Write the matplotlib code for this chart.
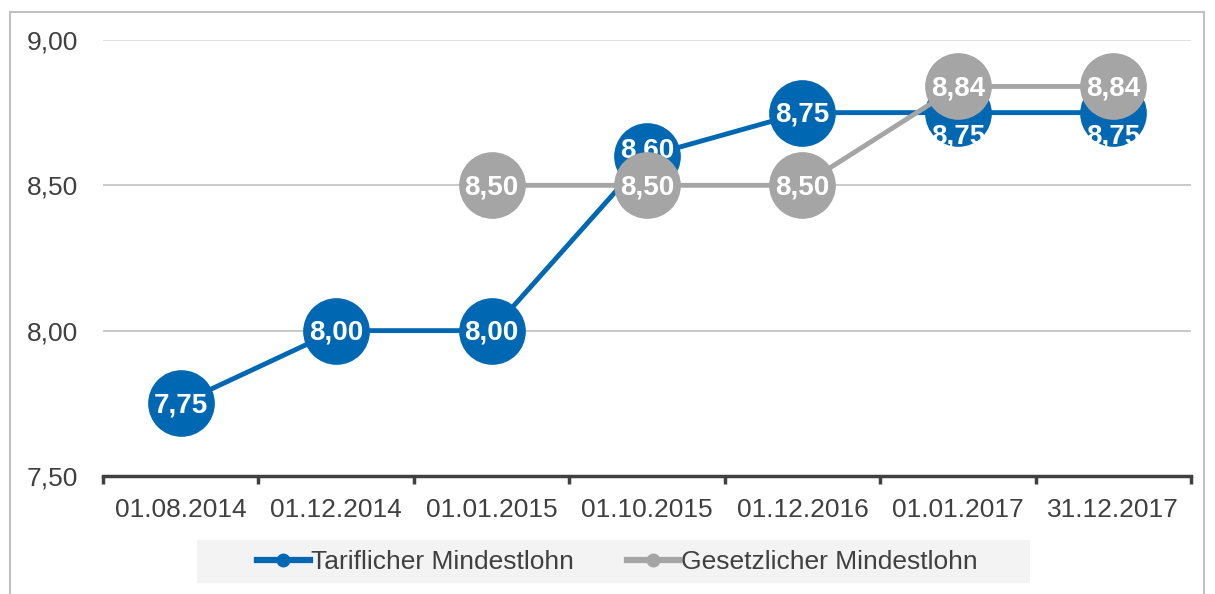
import matplotlib
matplotlib.use("Agg")
import matplotlib.pyplot as plt
from matplotlib.patches import Rectangle
from matplotlib.lines import Line2D

plt.rcParams['font.family'] = ['Liberation Sans', 'DejaVu Sans']

# data
dates = ["01.08.2014", "01.12.2014", "01.01.2015", "01.10.2015",
         "01.12.2016", "01.01.2017", "31.12.2017"]
tariflich = [7.75, 8.00, 8.00, 8.60, 8.75, 8.75, 8.75]
gesetzlich = [None, None, 8.50, 8.50, 8.50, 8.84, 8.84]
yticks = [7.50, 8.00, 8.50, 9.00]

blue = "#0068b3"
grey = "#a5a5a5"
txt = "#404040"

fig = plt.figure(figsize=(12.15, 5.94), dpi=100)
ax = fig.add_axes([0.0848, 0.1987, 0.8955, 0.734])

# outer frame
fig.patches.append(Rectangle((10/1215, -0.05), 1194/1215, 1.05 - 12/594,
                             transform=fig.transFigure, fill=False,
                             edgecolor="#c0c0c0", linewidth=1.5))
# legend background
fig.patches.append(Rectangle((197/1215, 1 - 583/594), 833/1215, 43/594,
                             transform=fig.transFigure, facecolor="#f3f3f3",
                             edgecolor="none"))

x = list(range(len(dates)))
ax.plot(x, tariflich, color=blue, lw=3.5, marker="o", ms=47,
        mec=blue, mfc=blue, zorder=3, clip_on=False,
        label="Tariflicher Mindestlohn")

# label offsets in pixels where the labels were nudged
boff = [0, 0, 0, 8, 0, -22, -22]
for i, v in enumerate(tariflich):
    ax.annotate(("%.2f" % v).replace(".", ","), (i, v), xytext=(0, boff[i] - 2),
                textcoords="offset pixels", ha="center", va="center",
                color="white", fontsize=20, fontweight="bold", zorder=4)

gx = [i for i, v in enumerate(gesetzlich) if v is not None]
gy = [v for v in gesetzlich if v is not None]
ax.plot(gx, gy, color=grey, lw=3.5, marker="o", ms=47,
        mec=grey, mfc=grey, zorder=5, clip_on=False,
        label="Gesetzlicher Mindestlohn")
for i, v in zip(gx, gy):
    ax.annotate(("%.2f" % v).replace(".", ","), (i, v), xytext=(0, -2),
                textcoords="offset pixels", ha="center",
                va="center", color="white", fontsize=20,
                fontweight="bold", zorder=6)

ax.set_xlim(-0.5, len(dates) - 0.5)
ax.set_ylim(7.5, 9.0)
ax.set_yticks(yticks)
ax.set_yticklabels([("%.2f" % t).replace(".", ",") for t in yticks])
ax.set_xticks(x)
ax.set_xticklabels(dates)
ax.set_xticks([i - 0.5 for i in range(len(dates) + 1)], minor=True)

ax.tick_params(axis="y", length=0, pad=18, labelsize=19, labelcolor=txt)
ax.tick_params(axis="x", which="major", length=0, pad=16,
               labelsize=19, labelcolor=txt)
ax.tick_params(axis="x", which="minor", length=6, width=2.5, color=txt)

ax.grid(axis="y", color="#c0c0c0", lw=1.2, zorder=0)
ax.get_ygridlines()[-1].set_color("#dcdcdc")
ax.set_axisbelow(True)
for s in ["left", "right", "top"]:
    ax.spines[s].set_visible(False)
ax.spines["bottom"].set_color(txt)
ax.spines["bottom"].set_linewidth(2.5)

labels = ["Tariflicher Mindestlohn", "Gesetzlicher Mindestlohn"]
hs = [Line2D([], [], color=blue, lw=4.5, marker="o", ms=9),
      Line2D([], [], color=grey, lw=4.5, marker="o", ms=9)]
leg = fig.legend(hs, labels, loc="center", bbox_to_anchor=(617/1215, 1 - 562/594),
                 ncol=2, frameon=False, fontsize=19, handlelength=2.0,
                 handletextpad=0.05, columnspacing=2.0)
for t in leg.get_texts():
    t.set_color(txt)

fig.savefig("out.png", dpi=100)
